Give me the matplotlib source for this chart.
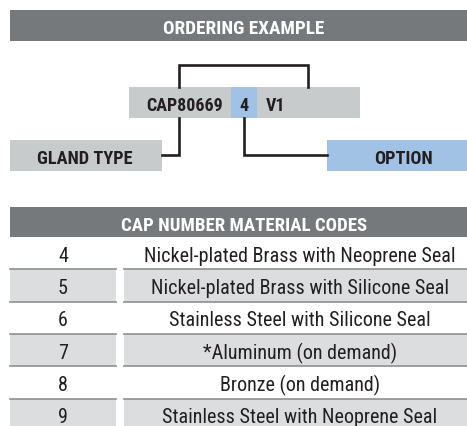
import matplotlib
matplotlib.use("Agg")
import matplotlib.pyplot as plt
from matplotlib.patches import Rectangle
from matplotlib import font_manager

# data
title_top = "ORDERING EXAMPLE"
code_parts = ["CAP80669", "4", "V1"]
label_left = "GLAND TYPE"
label_right = "OPTION"
table_title = "CAP NUMBER MATERIAL CODES"
codes = ["4", "5", "6", "7", "8", "9"]
materials = ["Nickel-plated Brass with Neoprene Seal",
             "Nickel-plated Brass with Silicone Seal",
             "Stainless Steel with Silicone Seal",
             "*Aluminum (on demand)",
             "Bronze (on demand)",
             "Stainless Steel with Neoprene Seal"]

names = set(f.name for f in font_manager.fontManager.ttflist)
fam = ["Liberation Sans Narrow", "DejaVu Sans"] if "Liberation Sans Narrow" in names else ["Roboto Condensed", "DejaVu Sans"]

DARK = "#76797c"
LIGHT = "#c8cbcc"
BLUE = "#a1c1e5"
ROWG = "#dcdddf"
LINE = "#8e9092"
INK = "#231f20"

fig = plt.figure(figsize=(4.67, 4.27), dpi=100)
ax = fig.add_axes([0, 0, 1, 1])
ax.set_xlim(0, 467)
ax.set_ylim(427, 0)
ax.axis("off")

def box(x0, y0, x1, y1, c):
    ax.add_patch(Rectangle((x0, y0), x1 - x0, y1 - y0, facecolor=c, edgecolor="none"))

def txt(x, y, s, size, color=INK, weight="bold", ha="center"):
    ax.text(x, y, s, fontsize=size, color=color, fontweight=weight, family=fam,
            ha=ha, va="center_baseline")

# ordering example
box(10, 11, 467, 42, DARK)
txt(244, 27, title_top, 13.8, color="white")

box(129, 88, 360, 119, LIGHT)
box(231, 88, 257, 119, BLUE)
txt(223, 104, code_parts[0], 13, ha="right")
txt(244, 104, code_parts[1], 13)
txt(266, 104, code_parts[2], 13, ha="left")

lw = 1.9
ax.plot([179, 179, 308, 308], [88, 66, 66, 88], color=INK, lw=lw, solid_joinstyle="miter")
ax.plot([179, 179, 162], [119, 156, 156], color=INK, lw=lw, solid_joinstyle="miter")
ax.plot([244, 244, 327], [119, 156, 156], color=INK, lw=lw, solid_joinstyle="miter")

box(10, 141, 162, 172, LIGHT)
txt(85, 157, label_left, 13.2)
box(327, 141, 467, 172, BLUE)
txt(403, 157, label_right, 13.2)

# material codes table
box(10, 208, 467, 238, DARK)
txt(244, 224, table_title, 13.5, color="white")

top = 238
rh = 32.3
for i, (c, m) in enumerate(zip(codes, materials)):
    y0 = top + i * rh
    if i % 2 == 1:
        for xa, xb in [(10, 116), (124, 467)]:
            box(xa, y0, xb, y0 + rh, ROWG)
            ax.plot([xa, xb], [y0, y0], color=LINE, lw=1.2)
            ax.plot([xa, xb], [y0 + rh, y0 + rh], color=LINE, lw=1.2)
    yc = y0 + rh / 2
    txt(63, yc, c, 14.5, weight="normal")
    txt(300, yc, m, 14.5, weight="normal")

fig.savefig("out.png", dpi=100)
